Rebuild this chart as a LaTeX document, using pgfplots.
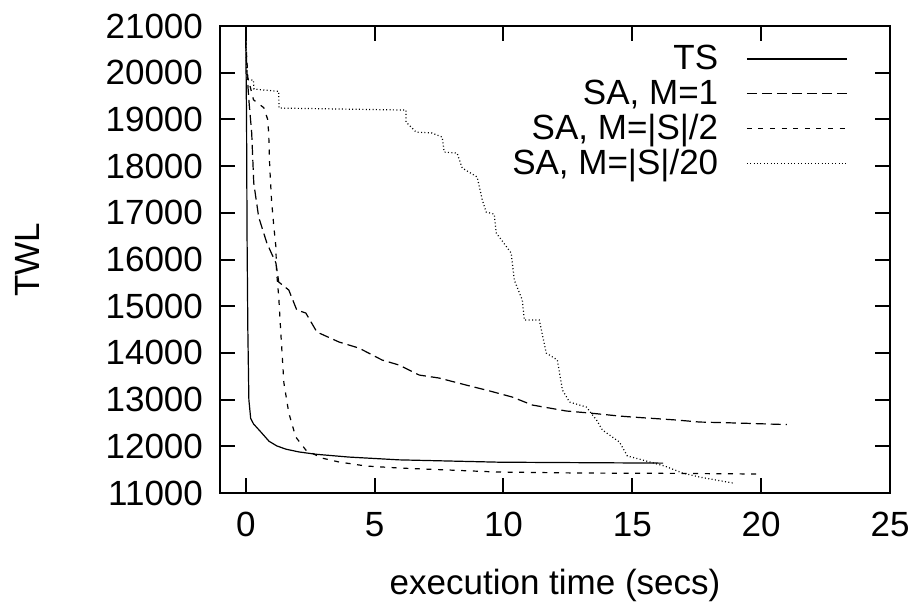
\documentclass[border=0pt]{standalone}
\usepackage{fontspec}
\setmainfont{Liberation Sans}
\usepackage{pgfplots}
\pgfplotsset{compat=1.18}
\begin{document}
\begin{tikzpicture}
\begin{axis}[
  scale only axis,
  width=335pt, height=233.5pt,
  xmin=-1, xmax=25, ymin=11000, ymax=21000,
  xtick={0,5,10,15,20,25},
  ytick={11000,12000,13000,14000,15000,16000,17000,18000,19000,20000,21000},
  scaled y ticks=false,
  /pgf/number format/set thousands separator={},
  /pgf/number format/assume math mode=true,
  font=\fontsize{17.5}{21}\selectfont,
  tick label style={font=\fontsize{17.5}{21}\selectfont},
  axis line style={line width=1pt},
  tick align=inside,
  major tick length=7.5pt,
  every tick/.style={line width=1pt, black},
  yticklabel style={xshift=-5pt},
  xticklabel style={yshift=-6pt},
  xlabel={execution time (secs)},
  ylabel={TWL},
  xlabel style={at={(axis description cs:0.5,-0.197)}, anchor=center},
  ylabel style={at={(axis description cs:-0.288,0.5)}, anchor=center},
  clip=false,
  legend plot pos=right,
  legend cell align=right,
  legend style={draw=none, fill=none, at={(axis description cs:0.937,0.968)}, anchor=north east,
    font=\fontsize{17.5}{21}\selectfont, row sep=-0.5pt, column sep=12pt, inner sep=0pt},
  legend image code/.code={\draw[#1] (0pt,0pt) -- (50pt,0pt);},
  every axis plot/.append style={line width=0.6pt, black},
]
\addplot[solid] coordinates {(0,20700) (0.03,19000) (0.05,16500) (0.08,14500) (0.12,13000) (0.19,12600) (0.3,12480) (0.58,12310) (0.9,12110) (1.2,12010) (1.55,11940) (2.06,11880) (2.72,11830) (4.0,11770) (5.95,11710) (9.84,11660) (13,11650) (16.2,11640)};
\addlegendentry{TS}
\addplot[dash pattern=on 5pt off 2.5pt] coordinates {(0,20700) (0.05,20000) (0.12,19414) (0.23,18708) (0.31,17640) (0.5,16910) (0.82,16350) (1.17,15924) (1.28,15517) (1.67,15346) (1.98,14918) (2.33,14854) (2.76,14447) (3.62,14233) (4.39,14104) (5.29,13848) (5.95,13740) (6.73,13526) (7.5,13462) (8.55,13312) (9.5,13180) (10.34,13055) (11.12,12884) (12.44,12756) (13.34,12713) (14.5,12648) (15.0,12627) (16.72,12563) (17.6,12520) (19.05,12499) (21.0,12465)};
\addlegendentry{SA, M=1}
\addplot[dash pattern=on 2.5pt off 3.3pt] coordinates {(0,20700) (0.08,19900) (0.3,19420) (0.7,19250) (0.85,19000) (0.89,18700) (0.93,17980) (1.0,17270) (1.09,16700) (1.17,16267) (1.19,15774) (1.28,15196) (1.36,14426) (1.48,13355) (1.67,12713) (1.94,12199) (2.33,11921) (2.95,11749) (3.62,11664) (4.67,11578) (5.95,11535) (7.89,11492) (9.72,11450) (12.95,11428) (16.72,11420) (19.8,11407)};
\addlegendentry{SA, M=|S|/2}
\addplot[dash pattern=on 0.5pt off 1.2pt] coordinates {(0,20700) (0.04,19850) (0.3,19840) (0.32,19650) (1.28,19600) (1.29,19243) (6.22,19200) (6.22,18943) (6.61,18729) (7.23,18708) (7.62,18622) (7.70,18301) (8.2,18279) (8.4,17958) (8.98,17766) (9.18,17273) (9.33,17016) (9.64,16973) (9.72,16567) (10.3,16138) (10.42,15560) (10.73,15132) (10.81,14704) (11.39,14704) (11.66,13997) (12.09,13848) (12.29,13205) (12.56,12948) (13.22,12841) (13.61,12563) (13.84,12349) (14.5,12092) (14.81,11792) (15.4,11707) (16.25,11578) (16.95,11428) (17.6,11343) (18.9,11214)};
\addlegendentry{SA, M=|S|/20}
\end{axis}
\pgfresetboundingbox
\path ([shift={(-110pt,-57pt)}]current axis.south west) rectangle ([shift={(13.5pt,13pt)}]current axis.north east);
\end{tikzpicture}
\end{document}
